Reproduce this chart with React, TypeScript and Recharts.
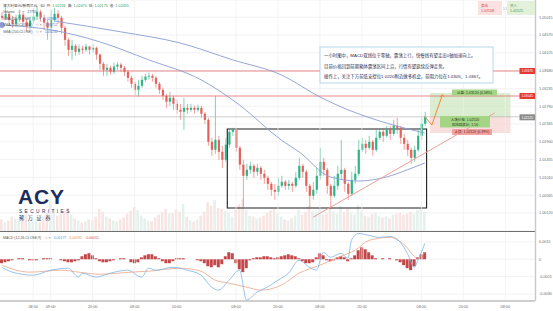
import React from 'react';
import { ComposedChart, Bar, Line, XAxis, YAxis, ReferenceLine, ReferenceArea, CartesianGrid } from 'recharts';

const W = 553;
const SLOTS = 153;

const firstOpen = 1.0505;
const closes = [
  1.0500,1.0510,1.0495,1.0485,1.0498,1.0508,1.0490,1.0478,1.0493,1.0503,
  1.0515,1.0500,1.0488,1.0475,1.0495,1.0510,1.0500,1.0475,1.0445,1.0420,
  1.0430,1.0415,1.0423,1.0420,1.0428,1.0420,1.0425,1.0408,1.0385,1.0370,
  1.0375,1.0365,1.0378,1.0383,1.0375,1.0365,1.0350,1.0335,1.0320,1.0330,
  1.0345,1.0353,1.0355,1.0350,1.0335,1.0320,1.0305,1.0290,1.0300,1.0285,
  1.0270,1.0265,1.0275,1.0270,1.0275,1.0270,1.0275,1.0260,1.0245,1.0190,
  1.0170,1.0195,1.0165,1.0145,1.0183,1.0215,1.0220,1.0175,1.0133,1.0105,
  1.0120,1.0130,1.0115,1.0125,1.0110,1.0100,1.0085,1.0070,1.0065,1.0080,
  1.0090,1.0080,1.0085,1.0080,1.0100,1.0130,1.0115,1.0080,1.0055,1.0070,
  1.0105,1.0140,1.0120,1.0080,1.0055,1.0080,1.0110,1.0120,1.0085,1.0060,
  1.0095,1.0110,1.0170,1.0185,1.0175,1.0190,1.0170,1.0200,1.0215,1.0205,
  1.0220,1.0210,1.0230,1.0225,1.0200,1.0185,1.0170,1.0150,1.0170,1.0205,
  1.0235,1.0253,
];
const highs = [
  1.0515,1.0525,1.0515,1.0505,1.0508,1.0520,1.0513,1.0498,1.0503,1.0523,
  1.0530,1.0520,1.0508,1.0495,1.0520,1.0525,1.0520,1.0505,1.0480,1.0450,
  1.0445,1.0435,1.0433,1.0430,1.0435,1.0430,1.0435,1.0428,1.0410,1.0390,
  1.0385,1.0380,1.0388,1.0390,1.0388,1.0380,1.0370,1.0355,1.0340,1.0345,
  1.0355,1.0360,1.0363,1.0360,1.0355,1.0340,1.0325,1.0310,1.0315,1.0305,
  1.0295,1.0285,1.0300,1.0285,1.0285,1.0280,1.0283,1.0280,1.0265,1.0250,
  1.0200,1.0305,1.0205,1.0180,1.0200,1.0225,1.0225,1.0220,1.0180,1.0145,
  1.0135,1.0140,1.0135,1.0135,1.0130,1.0120,1.0105,1.0090,1.0085,1.0100,
  1.0105,1.0095,1.0095,1.0090,1.0115,1.0150,1.0135,1.0120,1.0085,1.0090,
  1.0125,1.0175,1.0150,1.0125,1.0085,1.0105,1.0130,1.0195,1.0125,1.0090,
  1.0115,1.0130,1.0195,1.0200,1.0195,1.0205,1.0195,1.0220,1.0225,1.0225,
  1.0230,1.0230,1.0245,1.0250,1.0230,1.0210,1.0195,1.0175,1.0180,1.0220,
  1.0250,1.0265,
];
const lows = [
  1.0490,1.0495,1.0485,1.0475,1.0478,1.0490,1.0480,1.0465,1.0470,1.0485,
  1.0495,1.0490,1.0470,1.0445,1.0370,1.0490,1.0485,1.0460,1.0430,1.0405,
  1.0395,1.0405,1.0408,1.0410,1.0415,1.0408,1.0413,1.0395,1.0370,1.0355,
  1.0355,1.0358,1.0360,1.0370,1.0365,1.0355,1.0340,1.0325,1.0308,1.0303,
  1.0325,1.0340,1.0345,1.0340,1.0325,1.0310,1.0295,1.0275,1.0280,1.0270,
  1.0260,1.0245,1.0220,1.0260,1.0265,1.0260,1.0265,1.0250,1.0235,1.0180,
  1.0155,1.0160,1.0145,1.0125,1.0140,1.0175,1.0205,1.0165,1.0120,1.0025,
  1.0095,1.0110,1.0100,1.0105,1.0095,1.0085,1.0070,1.0055,1.0045,1.0055,
  1.0075,1.0070,1.0070,1.0065,1.0075,1.0095,1.0100,1.0065,1.0025,1.0045,
  1.0060,1.0095,1.0105,1.0060,1.0025,1.0050,1.0070,1.0095,1.0065,1.0045,
  1.0055,1.0085,1.0105,1.0165,1.0160,1.0170,1.0155,1.0165,1.0195,1.0190,
  1.0200,1.0195,1.0205,1.0210,1.0185,1.0170,1.0155,1.0135,1.0140,1.0165,
  1.0195,1.0230,
];
const volumes = [
  1200,900,1100,1500,1300,1000,1400,1700,1200,1100,1300,900,1500,1900,
  3000,2200,1600,1800,2100,2400,1700,1300,1100,900,1000,1200,1100,1500,
  2300,2000,1500,1300,1100,1000,1200,1400,1800,2100,2500,2200,1600,1300,
  1100,1000,1400,1700,2000,2300,1800,1900,2200,2000,2800,1500,1100,1000,
  1200,1600,2000,3000,2600,3200,2400,2300,2100,1900,1500,2200,2800,3300,
  2200,1600,1500,1300,1400,1600,1900,2100,2300,1800,1500,1200,1100,1300,
  1600,2200,1700,2000,2600,2100,1900,2400,1700,1900,2500,2000,1800,2600,
  2000,2300,1900,1700,2700,2100,1600,1500,1800,1900,1600,1400,1500,1300,
  1700,1800,1900,1700,1800,2000,1800,2200,2400,2000,
];
const maAIdx = [0,14,28,42,57,68,80,85,94,102,110,116,121];
const maAVal = [1.0482,1.0470,1.0440,1.0395,1.0345,1.0282,1.0194,1.0165,1.0102,1.0092,1.0102,1.0120,1.0137];
const maBIdx = [15,34,51,66,80,91,99,107,114,121];
const maBVal = [1.0492,1.0465,1.0437,1.0395,1.0357,1.0302,1.0270,1.0245,1.0227,1.0212];
const forecastIdx = [121,123,126];
const forecastVal = [1.0253,1.0232,1.0307];

const macdHist = [
  -0.00034,-0.00026,-0.00017,
  -0.00009,0,0.00009,0.00009,0,-0.00009,
  -0.00009,-0.00009,0,0.00009,
  0.00009,0.00009,0,0,-0.00009,
  -0.00017,-0.00026,-0.00026,-0.00017,-0.00009,
  0.00026,0.00043,0.00051,0.00034,
  0.00009,-0.00017,-0.00026,-0.00026,-0.00017,-0.00009,
  0,0.00009,0.00009,0,
  -0.00026,-0.00034,-0.00026,
  0.00017,0.00034,0.00043,0.00043,0.00026,0.00009,
  -0.00017,-0.00034,-0.00034,-0.00017,
  0.00009,0.00009,0.00009,
  0,0,0,-0.00009,-0.00017,
  -0.00034,-0.0006,-0.00069,-0.00051,-0.00069,-0.00043,
  0.00026,0.0006,0.00051,
  -0.00034,-0.00086,-0.00111,-0.00077,
  -0.00009,0.00009,0.00017,0.00017,
  0.00026,0.00026,0.00017,0.00009,
  0.00017,0.00026,0.00034,0.00043,0.00034,0.00026,
  0.00009,-0.00017,-0.00034,-0.00034,-0.00026,
  0.00017,0.00051,0.00034,
  -0.00009,-0.00017,-0.00009,
  0.00017,0.00026,0.00017,
  -0.00017,0.00009,
  0.00034,0.00077,0.00103,0.00086,0.0006,0.00034,
  0.00009,0,0.00009,0,0.00009,0,-0.00009,
  -0.00026,-0.00051,-0.00077,-0.00094,-0.0006,
  0.00017,0.00043,0.0006,
];
const macdIdx = [0,3,9,14,19,22,23,27,31,36,40,42,44,49,53,57,60,62,65,68,70,73,76,79,82,85,88,90,92,94,97,99,100,102,105,108,111,114,116,118,119,121];
const macdVal = [-0.00069,-0.00111,-0.00137,-0.00094,-0.00077,-0.00154,-0.0012,-0.00154,-0.0012,-0.00094,-0.00154,-0.00077,-0.00094,-0.00069,-0.00094,-0.00137,-0.0024,-0.00266,-0.0018,-0.00094,-0.00351,-0.00283,-0.0024,-0.0018,-0.0012,-0.00009,-0.00069,-0.00094,0.0006,0.00017,0.00051,0.00009,0.00163,0.00223,0.00206,0.00189,0.00197,0.00146,0.00051,-0.00069,-0.00009,0.00137];
const signalIdx = [0,8,17,22,28,37,42,51,57,61,65,70,74,80,85,91,97,101,105,111,115,119,121];
const signalVal = [-0.00051,-0.00111,-0.00094,-0.00111,-0.00129,-0.00111,-0.00103,-0.00077,-0.00103,-0.0018,-0.00206,-0.0024,-0.00266,-0.00223,-0.0012,-0.00051,0.00026,0.00077,0.00163,0.00189,0.00129,0.00009,0.0006];

const timeTickIdx = [9,14,26,38,50,67,79,91,103,120,132,144];
const timeTickLbl = ['08:00','09:00','20:00','08:00','20:00','08:00','20:00','08:00','20:00','08:00','20:00','08:00'];
const priceTicks = [1.0012,1.00565,1.0101,1.01455,1.019,1.02345,1.0279,1.03235,1.0368,1.04125,1.0457,1.05015];
const macdTicks = [0.0015,0,-0.0015,-0.003];

const resistance1 = 1.0367;
const resistance2 = 1.03045;
const lastPrice = 1.02525;
const boxHigh = 1.0222;
const boxLow = 1.00245;
const takeProfit = 1.0312;
const entry = 1.0252;
const stopLoss = 1.0212;
const trendStart = { x: 89, y: 1.00013 };
const trendEnd = { x: 141, y: 1.0262 };

const GREEN = '#2fb487';
const RED = '#e5625b';
const MA_COLOR = '#8a9bd3';
const FONT = "'Liberation Sans', Arial, 'Noto Sans CJK SC', sans-serif";

const data: any[] = Array.from({ length: SLOTS }, (_, i) => {
  const row: any = { i };
  if (i < closes.length) {
    row.open = i === 0 ? firstOpen : closes[i - 1];
    row.close = closes[i];
    row.high = highs[i];
    row.low = lows[i];
    row.vol = volumes[i];
    row.hist = macdHist[i];
    row.up = row.close >= row.open;
  }
  return row;
});
maAIdx.forEach((k, j) => { data[k].maA = maAVal[j]; });
maBIdx.forEach((k, j) => { data[k].maB = maBVal[j]; });
forecastIdx.forEach((k, j) => { data[k].fc = forecastVal[j]; });
macdIdx.forEach((k, j) => { data[k].macd = macdVal[j]; });
signalIdx.forEach((k, j) => { data[k].signal = signalVal[j]; });

const Candle = (props: any) => {
  const { x, y, width, height, payload } = props;
  if (!payload || payload.high == null || y == null) return <g />;
  const { open, close, high, low } = payload;
  const top = Math.min(y, y + height);
  const h = Math.abs(height);
  const span = high - low || 1e-9;
  const py = (p: number) => top + ((high - p) / span) * h;
  const color = close >= open ? GREEN : RED;
  const cx = x + width / 2;
  const bTop = py(Math.max(open, close));
  const bBot = py(Math.min(open, close));
  return (
    <g>
      <line x1={cx} x2={cx} y1={top} y2={top + h} stroke={color} strokeWidth={0.6} />
      <rect x={x} y={bTop} width={width} height={Math.max(0.7, bBot - bTop)} fill={color} />
    </g>
  );
};

const VolBar = (props: any) => {
  const { x, y, width, height, payload } = props;
  if (!payload || payload.vol == null) return <g />;
  return <rect x={x} y={y} width={width} height={Math.max(0, height)} fill={payload.up ? '#e4f1ec' : '#f8e5e3'} />;
};

const ArrowDot = (props: any) => {
  const { cx, cy, index } = props;
  if (index !== forecastIdx[forecastIdx.length - 1] || cx == null) return <g key={'d' + index} />;
  return <path key={'d' + index} d={`M${cx - 2.2},${cy + 2.2} L${cx},${cy - 0.5} L${cx + 2.2},${cy + 2.2}`} stroke="#ef8a3a" strokeWidth={1} fill="none" />;
};

const priceTickFmt = (v: number) => v.toFixed(5);
const macdTickFmt = (v: number) => (v === 0 ? '0' : v.toFixed(4));
const timeFmt = (v: number) => {
  const k = timeTickIdx.indexOf(v);
  return k >= 0 ? timeTickLbl[k] : '';
};

export default function App() {
  const small = { fontSize: 3.8, fill: '#6d6d6d' };
  return (
    <div style={{ position: 'relative', width: W, height: 311, background: '#fff', fontFamily: FONT, overflow: 'hidden' }}>
      <style>{'body{margin:0;background:#fff}'}</style>
      <div style={{ position: 'absolute', left: 0, top: 0 }}>
        <ComposedChart width={W} height={231} data={data} margin={{ top: 0, right: 18, bottom: 0, left: 0 }}>
          <XAxis dataKey="i" hide />
          <YAxis yAxisId="v" hide domain={[0, 24000]} allowDataOverflow />
          <Bar yAxisId="v" dataKey="vol" barSize={2.6} shape={(p: any) => <VolBar {...p} />} isAnimationActive={false} />
        </ComposedChart>
      </div>
      <div style={{ position: 'absolute', left: 0, top: 0 }}>
        <ComposedChart width={W} height={231} data={data} margin={{ top: 0, right: 0, bottom: 0, left: 0 }}>
          <CartesianGrid vertical={false} stroke="#ededed" strokeWidth={0.7} />
          {timeTickIdx.map((k) => (
            <ReferenceLine key={'v' + k} x={k} stroke="#efefef" strokeWidth={0.7} />
          ))}
          <XAxis dataKey="i" hide />
          <YAxis orientation="right" width={18} domain={[0.9967, 1.05445]} allowDataOverflow ticks={priceTicks} interval={0}
            tickFormatter={priceTickFmt} tick={small} tickLine={false} axisLine={false} tickSize={0} tickMargin={4} />
          <ReferenceArea x1={123} x2={145} y1={entry} y2={takeProfit} fill="#d2e9c6" fillOpacity={0.8} stroke="none" />
          <ReferenceArea x1={123} x2={145} y1={stopLoss} y2={entry} fill="#f6d6d4" fillOpacity={0.8} stroke="none" />
          <ReferenceLine y={resistance1} stroke="#e36a6a" strokeWidth={0.8} />
          <ReferenceLine y={resistance2} stroke="#e36a6a" strokeWidth={0.8} />
          <ReferenceLine y={lastPrice} stroke="#a9a9a9" strokeWidth={0.6} />
          <Line dataKey="maA" stroke={MA_COLOR} strokeWidth={0.9} dot={false} connectNulls type="monotone" isAnimationActive={false} />
          <Line dataKey="maB" stroke={MA_COLOR} strokeWidth={0.9} dot={false} connectNulls type="monotone" isAnimationActive={false} />
          <ReferenceLine segment={[trendStart, trendEnd]} stroke="#e9a09c" strokeWidth={1} />
          <ReferenceArea x1={65} x2={121} y1={boxLow} y2={boxHigh} fill="none" fillOpacity={0} stroke="#1e1e1e" strokeWidth={1.1} />
          <Bar dataKey={(d: any) => (d.high == null ? null : [d.low, d.high])} barSize={2.2} shape={(p: any) => <Candle {...p} />} isAnimationActive={false} />
          <Line dataKey="fc" stroke="#ef8a3a" strokeWidth={1} connectNulls dot={ArrowDot} type="linear" isAnimationActive={false} />
        </ComposedChart>
      </div>
      <div style={{ position: 'absolute', left: 0, top: 231 }}>
        <ComposedChart width={W} height={80} data={data} margin={{ top: 0, right: 0, bottom: 0, left: 0 }}>
          <CartesianGrid vertical={false} stroke="#ececec" strokeWidth={0.7} />
          {timeTickIdx.map((k) => (
            <ReferenceLine key={'m' + k} x={k} stroke="#efefef" strokeWidth={0.7} />
          ))}
          <XAxis dataKey="i" ticks={timeTickIdx} interval={0} tickFormatter={timeFmt} height={10}
            tick={small} tickLine={false} tickSize={0} tickMargin={4} axisLine={{ stroke: '#8f8f8f', strokeWidth: 0.8 }} />
          <YAxis orientation="right" width={18} domain={[-0.0036, 0.00244]} allowDataOverflow ticks={macdTicks} interval={0}
            tickFormatter={macdTickFmt} tick={small} tickLine={false} axisLine={false} tickSize={0} tickMargin={4} />
          <Bar dataKey="hist" fill="#c4484a" barSize={3} isAnimationActive={false} />
          <Line dataKey="signal" stroke="#eea58a" strokeWidth={0.8} dot={false} connectNulls type="monotone" isAnimationActive={false} />
          <Line dataKey="macd" stroke="#7db4e6" strokeWidth={0.8} dot={false} connectNulls type="monotone" isAnimationActive={false} />
        </ComposedChart>
      </div>
      <svg width={W} height={311} style={{ position: 'absolute', left: 0, top: 0, pointerEvents: 'none' }} fontFamily={FONT}>
        <line x1={0} x2={535} y1={231.5} y2={231.5} stroke="#6f6f6f" strokeWidth={1} />
        <line x1={535.5} x2={535.5} y1={0} y2={301} stroke="#c9c9c9" strokeWidth={1.4} />

        <text x={3} y={6.6} fontSize={3.7} fill="#444">
          澳大利亚元/新西兰元 · 60
          <tspan dx={2}>开:</tspan><tspan fill="#2e9e62" dx={1}>1.02256</tspan>
          <tspan dx={2}>高:</tspan><tspan fill="#2e9e62" dx={1}>1.02470</tspan>
          <tspan dx={2}>低:</tspan><tspan fill="#2e9e62" dx={1}>1.02175</tspan>
          <tspan dx={2}>收:</tspan><tspan fill="#2e9e62" dx={1}>1.02455</tspan>
        </text>
        <text x={3} y={13.2} fontSize={3.5} fill="#555">Volume<tspan dx={3}>◎ ×</tspan><tspan dx={3} fill="#555">17751</tspan></text>
        <text x={3} y={19.6} fontSize={3.5} fill="#555">SMA (50,CLOSE)<tspan dx={4}>◎ ×</tspan><tspan dx={3} fill="#4a78d0">1.02968</tspan></text>
        <text x={3} y={26.4} fontSize={3.5} fill="#555">SMA (100,CLOSE)<tspan dx={3}>◎ ×</tspan><tspan dx={3} fill="#4a78d0">1.03712</tspan></text>
        <text x={3} y={33.2} fontSize={3.5} fill="#555">SMA (200,CLOSE)<tspan dx={3}>◎ ×</tspan><tspan dx={3} fill="#4a78d0">1.03232</tspan></text>

        <rect x={478} y={1} width={24} height={14} fill="#fbe1e0" />
        <text x={481} y={6.5} fontSize={3.6} fill="#d04a4a">卖出</text>
        <text x={481} y={12} fontSize={3.6} fill="#d04a4a">1.02508</text>
        <text x={503} y={9.5} fontSize={3.2} fill="#888">1.7</text>
        <rect x={507} y={1} width={28} height={14} fill="#e3f1da" />
        <text x={510} y={6.5} fontSize={3.6} fill="#3f9a4e">买入</text>
        <text x={510} y={12} fontSize={3.6} fill="#3f9a4e">1.02525</text>

        <rect x={320} y={47} width={173} height={36} fill="#fff" stroke="#a3cde6" strokeWidth={0.8} />
        <text x={324} y={57} fontSize={4.4} fill="#1f2c52">一小时图中，MACD双线位于零轴，震荡上行，快慢线有望走出0轴加速向上。</text>
        <text x={324} y={67.5} fontSize={4.4} fill="#1f2c52">目前价格回到前期箱体震荡区间上沿，行情有望延续反弹走势。</text>
        <text x={324} y={78} fontSize={4.4} fill="#1f2c52">操作上，关注下方前低支撑位1.0220附近做多机会，前阻力位在1.0305、1.0367。</text>

        <rect x={519.5} y={68} width={15.5} height={6} fill="#e53935" />
        <text x={527.2} y={72.3} fontSize={3.2} fill="#fff" textAnchor="middle">1.03670</text>
        <rect x={519.5} y={93} width={15.5} height={6} fill="#e53935" />
        <text x={527.2} y={97.3} fontSize={3.2} fill="#fff" textAnchor="middle">1.03045</text>
        <rect x={519.5} y={114.3} width={15.5} height={6} fill="#8c8c8c" />
        <text x={527.2} y={118.6} fontSize={3.2} fill="#fff" textAnchor="middle">1.02525</text>

        <rect x={452} y={89.5} width={45} height={6} fill="#a3d585" />
        <text x={474.5} y={93.8} fontSize={3.5} fill="#1e3a14" textAnchor="middle">止盈: 1.03120 (0.58%)</text>
        <rect x={440} y={116} width={50} height={11.5} fill="#a3d585" />
        <text x={465} y={120.6} fontSize={3.5} fill="#1e3a14" textAnchor="middle">入场价格: 1.02520</text>
        <text x={465} y={125.6} fontSize={3.5} fill="#1e3a14" textAnchor="middle">风险回报比: 1.50</text>
        <rect x={452} y={129} width={40} height={6} fill="#f2a3a1" />
        <text x={472} y={133.3} fontSize={3.5} fill="#5a1a1a" textAnchor="middle">止损: 1.02120 (0.39%)</text>

        <text x={18} y={203.5} fontSize={21} fontWeight={700} fill="#1c2d5c" letterSpacing={0.8}>ACY</text>
        <text x={19} y={212.5} fontSize={4.8} fill="#1c2d5c" letterSpacing={2.4}>SECURITIES</text>
        <text x={19} y={220} fontSize={5.2} fill="#1c2d5c" letterSpacing={3.6}>稀万证券</text>

        <text x={3} y={238.8} fontSize={3.5} fill="#555">MACD (12,26,CLOSE,9)<tspan dx={3}>◎ ×</tspan>
          <tspan dx={3} fill="#4f9ad8">0.00177</tspan>
          <tspan dx={3} fill="#e8895e">0.00192</tspan>
          <tspan dx={3} fill="#d9534f">-0.00015</tspan>
        </text>
      </svg>
    </div>
  );
}
